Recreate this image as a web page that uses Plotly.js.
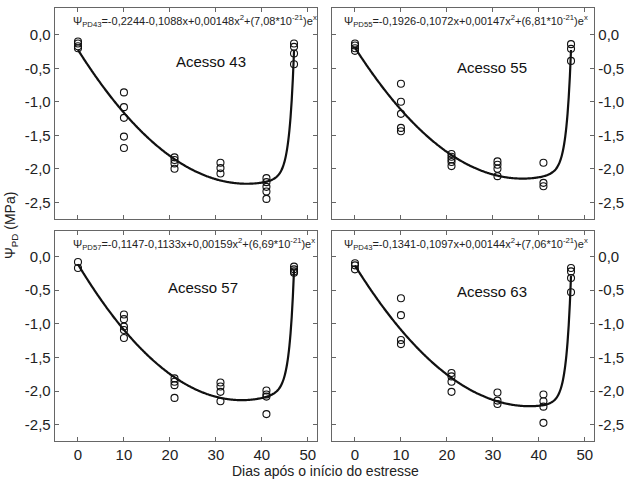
<!DOCTYPE html>
<html>
<head>
<meta charset="utf-8">
<script src="https://cdn.plot.ly/plotly-3.0.1.min.js"></script>
<style>html,body{margin:0;padding:0;background:#fff;}#chart{width:626px;height:480px;}</style>
</head>
<body>
<div id="chart"></div>
<script>
// ---- data ----
const panels = ["Acesso 43", "Acesso 55", "Acesso 57", "Acesso 63"];
const eqLabels = ["PD43", "PD55", "PD57", "PD43"];
const coefA = [-0.2244, -0.1926, -0.1147, -0.1341];
const coefB = [-0.1088, -0.1072, -0.1133, -0.1097];
const coefC = [0.00148, 0.00147, 0.00159, 0.00144];
const coefD = [7.08e-21, 6.81e-21, 6.69e-21, 7.06e-21];
const coefTextA = ["-0,2244", "-0,1926", "-0,1147", "-0,1341"];
const coefTextB = ["-0,1088", "-0,1072", "-0,1133", "-0,1097"];
const coefTextC = ["0,00148", "0,00147", "0,00159", "0,00144"];
const coefTextD = ["7,08", "6,81", "6,69", "7,06"];

const days43 = [0,0,0,0, 10,10,10,10,10, 21,21,21,21, 31,31,31, 41,41,41,41,41, 47,47,47,47];
const psi43  = [-0.10,-0.13,-0.17,-0.20, -0.86,-1.08,-1.24,-1.52,-1.69, -1.83,-1.87,-1.92,-2.00, -1.91,-1.99,-2.07, -2.14,-2.20,-2.27,-2.34,-2.45, -0.13,-0.18,-0.28,-0.44];
const days55 = [0,0,0,0, 10,10,10,10,10, 21,21,21,21,21, 31,31,31,31, 41,41,41, 47,47,47];
const psi55  = [-0.13,-0.16,-0.20,-0.24, -0.73,-1.00,-1.18,-1.39,-1.44, -1.78,-1.82,-1.86,-1.90,-1.96, -1.89,-1.94,-2.00,-2.11, -1.91,-2.21,-2.26, -0.14,-0.21,-0.39];
const days57 = [0,0, 10,10,10,10,10, 21,21,21,21, 31,31,31,31, 41,41,41,41, 47,47,47,47];
const psi57  = [-0.08,-0.17, -0.86,-0.93,-1.04,-1.09,-1.21, -1.81,-1.86,-1.91,-2.10, -1.87,-1.93,-2.01,-2.15, -1.99,-2.05,-2.08,-2.34, -0.15,-0.19,-0.22,-0.24];
const days63 = [0,0,0, 10,10,10,10, 21,21,21,21, 31,31,31, 41,41,41,41, 47,47,47,47];
const psi63  = [-0.10,-0.13,-0.19, -0.62,-0.87,-1.24,-1.30, -1.73,-1.78,-1.86,-2.01, -2.02,-2.14,-2.19, -2.05,-2.15,-2.23,-2.47, -0.17,-0.22,-0.32,-0.53];

const xTickVals = [0,10,20,30,40,50];
const xTickText = ["0","10","20","30","40","50"];
const yTickVals = [0,-0.5,-1,-1.5,-2,-2.5];
const yTickText = ["0,0","-0,5","-1,0","-1,5","-2,0","-2,5"];

const allDays = [days43, days55, days57, days63];
const allPsi = [psi43, psi55, psi57, psi63];

// ---- figure ----
const W = 626, H = 480;
const boxes = [ // pixel boxes [left, right, top, bottom]
  [55, 317, 8, 219],
  [332, 594, 8, 219],
  [55, 317, 231, 441],
  [332, 594, 231, 441]
];
const font = "Liberation Sans, Arial, sans-serif";
const frameColor = "#666666";

const traces = [];
const layout = {
  width: W, height: H,
  margin: {l:0, r:0, t:0, b:0},
  paper_bgcolor: "#fff", plot_bgcolor: "#fff",
  showlegend: false,
  font: {family: font, color: "#222"},
  annotations: []
};

for (let i = 0; i < 4; i++) {
  const sfx = i === 0 ? "" : String(i + 1);
  const xa = "x" + sfx, ya = "y" + sfx;
  // fitted curve from printed equation
  const cx = [], cy = [];
  for (let k = 0; k <= 47 * 4; k++) {
    const x = k / 4;
    cx.push(x);
    cy.push(coefA[i] + coefB[i] * x + coefC[i] * x * x + coefD[i] * Math.exp(x));
  }
  traces.push({x: cx, y: cy, xaxis: xa, yaxis: ya, mode: "lines",
    line: {color: "#111", width: 2.2, shape: "spline"}, hoverinfo: "skip"});
  traces.push({x: allDays[i], y: allPsi[i], xaxis: xa, yaxis: ya, mode: "markers",
    marker: {symbol: "circle-open", size: 7, color: "#111", line: {width: 1.1, color: "#111"}}});

  const b = boxes[i];
  const isBottom = i >= 2, isRight = (i % 2) === 1;
  layout["xaxis" + sfx] = {
    domain: [b[0] / W, b[1] / W], anchor: ya, range: [-5, 52],
    tickvals: xTickVals, ticktext: xTickText, showticklabels: isBottom,
    ticks: "inside", ticklen: 4, tickcolor: frameColor, tickwidth: 1,
    showline: true, linecolor: frameColor, linewidth: 1.3, mirror: "ticks",
    showgrid: false, zeroline: false,
    tickfont: {family: font, size: 15, color: "#222"}
  };
  layout["yaxis" + sfx] = {
    domain: [1 - b[3] / H, 1 - b[2] / H], anchor: xa,
    range: isBottom ? [-2.74, 0.38] : [-2.75, 0.4],
    side: isRight ? "right" : "left",
    tickvals: yTickVals, ticktext: yTickText,
    ticks: "inside", ticklen: 4, tickcolor: frameColor, tickwidth: 1,
    showline: true, linecolor: frameColor, linewidth: 1.3, mirror: "ticks",
    showgrid: false, zeroline: false,
    tickfont: {family: font, size: 15, color: "#222"}
  };
  layout.annotations.push({
    xref: "paper", yref: "paper", x: (b[0] + (isRight ? 10 : 16)) / W, y: 1 - (b[2] + 13) / H,
    xanchor: "left", yanchor: "middle", showarrow: false,
    text: "Ψ<sub>" + eqLabels[i] + "</sub>=" + coefTextA[i] + coefTextB[i] + "x+" + coefTextC[i] +
      "x<sup>2</sup>+(" + coefTextD[i] + "*10<sup>-21</sup>)e<sup>x</sup>",
    font: {family: font, size: 11, color: "#222"}
  });
}

const acessoPos = [[211, 62], [492, 67], [203, 287], [492, 291]];
for (let i = 0; i < 4; i++) {
  layout.annotations.push({
    xref: "paper", yref: "paper", x: acessoPos[i][0] / W, y: 1 - acessoPos[i][1] / H,
    xanchor: "center", yanchor: "middle", showarrow: false,
    text: panels[i], font: {family: font, size: 15, color: "#111"}
  });
}
layout.annotations.push({
  xref: "paper", yref: "paper", x: 325 / W, y: 1 - 471 / H,
  xanchor: "center", yanchor: "middle", showarrow: false,
  text: "Dias após o início do estresse", font: {family: font, size: 14, color: "#222"}
});
layout.annotations.push({
  xref: "paper", yref: "paper", x: 11 / W, y: 1 - 226 / H,
  xanchor: "center", yanchor: "middle", showarrow: false, textangle: -90,
  text: "Ψ<sub>PD</sub> (MPa)", font: {family: font, size: 14, color: "#222"}
});

Plotly.newPlot("chart", traces, layout, {displayModeBar: false, staticPlot: true});
</script>
</body>
</html>
